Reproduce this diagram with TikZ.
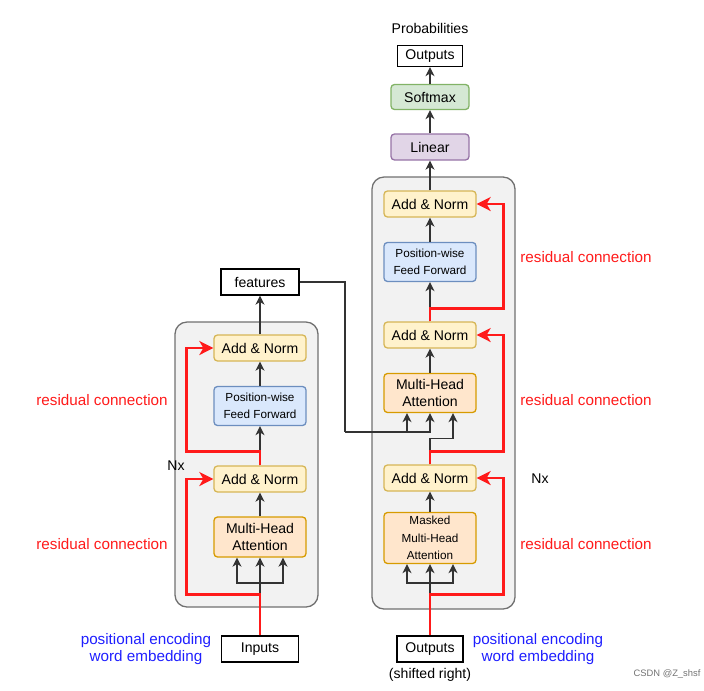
\documentclass[tikz,border=0pt]{standalone}
\usepackage{fontspec}
\setmainfont{Liberation Sans}
\usetikzlibrary{arrows.meta, positioning, calc}
\definecolor{cyel}{HTML}{FFF2CC}\definecolor{cyeld}{HTML}{D6B656}
\definecolor{cblu}{HTML}{DAE8FC}\definecolor{cblud}{HTML}{6C8EBF}
\definecolor{cora}{HTML}{FFE6CC}\definecolor{corad}{HTML}{D79B00}
\definecolor{cgrn}{HTML}{D5E8D4}\definecolor{cgrnd}{HTML}{82B366}
\definecolor{cpur}{HTML}{E1D5E7}\definecolor{cpurd}{HTML}{9673A6}
\definecolor{cblock}{HTML}{F2F2F2}\definecolor{cblockd}{HTML}{707070}
\definecolor{cline}{HTML}{333333}
\definecolor{cred}{HTML}{FF1A1A}
\definecolor{cblue}{HTML}{1F1FFF}
\tikzset{
  every picture/.style={font=\fontsize{12}{14}\selectfont, line width=1.1pt, x=0.03cm, y=-0.03cm},
  blk/.style={draw=#1d, fill=#1, rounded corners=3pt, align=center, minimum width=2.76cm, minimum height=0.78cm, inner sep=1pt},
  blk/.default=cyel,
  small/.style={font=\fontsize{10}{15}\selectfont},
  io/.style={draw=black, fill=white, align=center, minimum height=0.78cm, inner sep=1pt},
  block/.style={draw=cblockd, fill=cblock, rounded corners=0.36cm},
  line/.style={draw=cline},
  arr/.style={-{Stealth[length=2.7mm, width=2.7mm, inset=0.8mm]}, draw=cline},
  res/.style={-{Stealth[length=4.2mm, width=4.2mm, inset=1.2mm]}, draw=cred, line width=2.4pt},
  lbl/.style={font=\fontsize{13}{15}\selectfont, text=cred},
  emb/.style={font=\fontsize{13}{15}\selectfont, text=cblue, align=center},
}

\begin{document}
\begin{tikzpicture}
  \useasboundingbox (0,0) rectangle (704,690);
  % encoder and decoder stacks
  \draw[block] (175,322) rectangle (318,607);
  \draw[block] (372,177) rectangle (515,609);

  % encoder
  \node[io, minimum width=2.31cm] (inputs) at (260,649) {Inputs};
  \node[blk=cora, minimum height=1.2cm] (emha) at (260,537) {Multi-Head\\Attention};
  \node[blk=cyel] (eadd1) at (260,479) {Add \& Norm};
  \node[blk=cblu, minimum height=1.17cm, small] (effn) at (260,406) {Position-wise\\Feed Forward};
  \node[blk=cyel] (eadd2) at (260,348) {Add \& Norm};
  \node[io, minimum width=2.34cm] (feat) at (260,282) {features};

  % decoder
  \node[io, minimum width=1.98cm] (dout) at (430,649) {Outputs};
  \node[anchor=north] (shift) at (430,664) {(shifted right)};
  \node[blk=cora, minimum height=1.53cm, small] (dmmha) at (430,538) {Masked\\Multi-Head\\Attention};
  \node[blk=cyel] (dadd1) at (430,478) {Add \& Norm};
  \node[blk=cora, minimum height=1.17cm] (dmha) at (430,393) {Multi-Head\\Attention};
  \node[blk=cyel] (dadd2) at (430,335) {Add \& Norm};
  \node[blk=cblu, minimum height=1.17cm, small] (dffn) at (430,262) {Position-wise\\Feed Forward};
  \node[blk=cyel] (dadd3) at (430,204) {Add \& Norm};
  \node[blk=cpur, minimum width=2.34cm] (lin) at (430,147) {Linear};
  \node[blk=cgrn, minimum width=2.34cm, minimum height=0.75cm] (soft) at (430,97) {Softmax};
  \node[io, minimum width=1.95cm, minimum height=0.63cm] (out) at (430,56) {Outputs};
  \node (prob) at (430,28) {Probabilities};

  % labels
  \node[lbl] (rl1) at (102,400) {residual connection};
  \node[lbl] (rl2) at (102,544) {residual connection};
  \node[lbl] (rr1) at (586,257) {residual connection};
  \node[lbl] (rr2) at (586,400) {residual connection};
  \node[lbl] (rr3) at (586,544) {residual connection};
  \node (nxl) at (176,466) {Nx};
  \node (nxr) at (540,479) {Nx};
  \node[emb] (embl) at (146,649) {positional encoding\\word embedding};
  \node[emb] (embr) at (538,649) {positional encoding\\word embedding};
  \node[font=\fontsize{8}{9}\selectfont, text=black!55] (mark) at (667,674) {CSDN @Z\_shsf};

  % encoder connections
  \coordinate (ej) at (260,583);
  \draw[line] (inputs.north) -- (ej);
  \foreach \d in {-23,0,23} \draw[arr] (ej) -| ($(emha.south)+(\d,0)$);
  \draw[arr] (emha.north) -- (eadd1.south);
  \draw[arr] (eadd1.north) -- (effn.south);
  \draw[arr] (effn.north) -- (eadd2.south);
  \draw[arr] (eadd2.north) -- (feat.south);
  \draw[res] (inputs.north) -- ++(0,-41) -| ($(eadd1.west)+(-27,0)$) -- (eadd1.west);
  \draw[res] (eadd1.north) -- ++(0,-14) -| ($(eadd2.west)+(-27,0)$) -- (eadd2.west);

  % decoder connections
  \coordinate (dj) at (430,583);
  \draw[line] (dout.north) -- (dj);
  \foreach \d in {-23,0,23} \draw[arr] (dj) -| ($(dmmha.south)+(\d,0)$);
  \draw[arr] (dmmha.north) -- (dadd1.south);
  \coordinate (dk) at (345,432);
  \draw[line] (feat.east) -| (dk);
  \foreach \d in {-23,0} \draw[arr] (dk) -| ($(dmha.south)+(\d,0)$);
  \draw[arr] (dadd1.north) -- ++(0,-26) -| ($(dmha.south)+(23,0)$);
  \draw[arr] (dmha.north) -- (dadd2.south);
  \draw[arr] (dadd2.north) -- (dffn.south);
  \draw[arr] (dffn.north) -- (dadd3.south);
  \draw[res] (dout.north) -- ++(0,-41) -| ($(dadd1.east)+(27,0)$) -- (dadd1.east);
  \draw[res] (dadd1.north) -- ++(0,-13) -| ($(dadd2.east)+(27,0)$) -- (dadd2.east);
  \draw[res] (dadd2.north) -- ++(0,-13) -| ($(dadd3.east)+(27,0)$) -- (dadd3.east);

  % output head
  \draw[arr] (dadd3.north) -- (lin.south);
  \draw[arr] (lin.north) -- (soft.south);
  \draw[arr] (soft.north) -- (out.south);
\end{tikzpicture}
\end{document}
